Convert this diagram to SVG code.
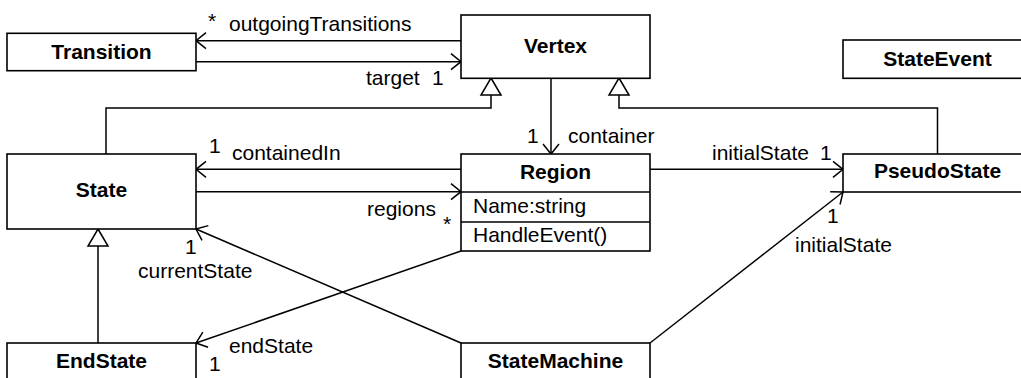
<svg xmlns="http://www.w3.org/2000/svg" width="1021" height="378" viewBox="0 0 1021 378">
<style>
.box{fill:#fff;stroke:#000;stroke-width:1.6}
.ln{fill:none;stroke:#000;stroke-width:1.5}
.tri{fill:#fff;stroke:#000;stroke-width:1.5}
.t{font-family:"Liberation Sans",Arial,sans-serif;font-size:21px;fill:#000}
.b{font-family:"Liberation Sans",Arial,sans-serif;font-size:21px;font-weight:bold;fill:#000;text-anchor:middle}
</style>
<defs>
<marker id="open" markerUnits="userSpaceOnUse" markerWidth="24" markerHeight="24" viewBox="-12 -12 24 24" refX="0" refY="0" orient="auto">
<path d="M-10,-8 L0,0 L-10,8" fill="none" stroke="#000" stroke-width="1.5"/>
</marker>
</defs>
<rect width="1021" height="378" fill="#fff"/>
<g id="connectors">
<line class="ln" x1="461" y1="40.7" x2="196" y2="40.7" marker-end="url(#open)"/>
<line class="ln" x1="196" y1="61.7" x2="461" y2="61.7" marker-end="url(#open)"/>
<path class="ln" d="M106,154 V108 H491 V95"/>
<path class="tri" d="M491,78 L501,95 L481,95 Z"/>
<path class="ln" d="M937.5,154 V108 H619 V95"/>
<path class="tri" d="M619,78 L629,95 L609,95 Z"/>
<line class="ln" x1="551" y1="78" x2="551" y2="154" marker-end="url(#open)"/>
<line class="ln" x1="461" y1="169.3" x2="196" y2="169.3" marker-end="url(#open)"/>
<line class="ln" x1="196" y1="191.7" x2="461" y2="191.7" marker-end="url(#open)"/>
<line class="ln" x1="650" y1="169.3" x2="843" y2="169.3" marker-end="url(#open)"/>
<line class="ln" x1="650" y1="343" x2="843" y2="192" marker-end="url(#open)"/>
<line class="ln" x1="461" y1="343" x2="196" y2="229" marker-end="url(#open)"/>
<line class="ln" x1="461" y1="251" x2="196" y2="343" marker-end="url(#open)"/>
<path class="ln" d="M98,343 V246"/>
<path class="tri" d="M98,229 L108,246 L88,246 Z"/>
<text class="t" x="208" y="28">*</text>
<text class="t" x="229" y="31">outgoingTransitions</text>
<text class="t" x="366" y="85">target</text>
<text class="t" x="432" y="85">1</text>
<text class="t" x="527" y="143">1</text>
<text class="t" x="568" y="143">container</text>
<text class="t" x="209" y="153">1</text>
<text class="t" x="232" y="160">containedIn</text>
<text class="t" x="367" y="216">regions</text>
<text class="t" x="443" y="231">*</text>
<text class="t" x="712" y="160">initialState</text>
<text class="t" x="820" y="160">1</text>
<text class="t" x="827" y="223">1</text>
<text class="t" x="795" y="252">initialState</text>
<text class="t" x="185" y="254">1</text>
<text class="t" x="138" y="278">currentState</text>
<text class="t" x="229" y="353">endState</text>
<text class="t" x="209" y="371">1</text>
</g>
<g id="Transition"><rect class="box" x="7" y="33.3" width="189" height="37.4"/><text class="b" x="101.5" y="59">Transition</text></g>
<g id="Vertex"><rect class="box" x="461" y="15" width="189" height="63.3"/><text class="b" x="555.5" y="53">Vertex</text></g>
<g id="StateEvent"><rect class="box" x="843" y="40" width="189" height="38.3"/><text class="b" x="937.5" y="66">StateEvent</text></g>
<g id="State"><rect class="box" x="7" y="154" width="189" height="75"/><text class="b" x="101.5" y="197">State</text></g>
<g id="Region"><rect class="box" x="461" y="154" width="189" height="97"/><line class="ln" x1="461" y1="192" x2="650" y2="192"/><line class="ln" x1="461" y1="222" x2="650" y2="222"/><text class="b" x="555.5" y="179">Region</text><text class="t" x="473" y="213">Name:string</text><text class="t" x="473" y="242">HandleEvent()</text></g>
<g id="PseudoState"><rect class="box" x="843" y="154" width="189" height="38"/><text class="b" x="937.5" y="178">PseudoState</text></g>
<g id="EndState"><rect class="box" x="7" y="343" width="189" height="48"/><text class="b" x="101.5" y="368">EndState</text></g>
<g id="StateMachine"><rect class="box" x="461" y="343" width="189" height="48"/><text class="b" x="555.5" y="368">StateMachine</text></g>
</svg>
